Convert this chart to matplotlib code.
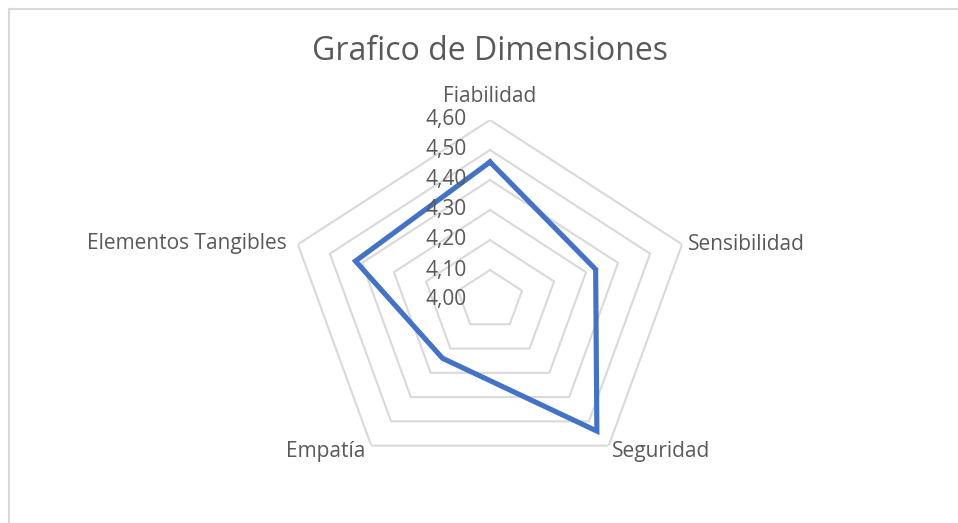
import numpy as np
import matplotlib
matplotlib.use("Agg")
import matplotlib.pyplot as plt
from matplotlib.lines import Line2D

categories = ["Fiabilidad", "Sensibilidad", "Seguridad", "Empatía", "Elementos Tangibles"]
values = [4.46, 4.33, 4.54, 4.24, 4.42]
ticks = [4.00, 4.10, 4.20, 4.30, 4.40, 4.50, 4.60]
tick_labels = ["4,00", "4,10", "4,20", "4,30", "4,40", "4,50", "4,60"]
title = "Grafico de Dimensiones"

plt.rcParams['font.family'] = ['Open Sans', 'DejaVu Sans']
W, H = 958, 523
fig = plt.figure(figsize=(W / 100, H / 100), dpi=100)

# chart border (top and left)
fig.add_artist(Line2D([9 / W, 1.0], [1 - 8.5 / H, 1 - 8.5 / H], color="#d9d9d9", lw=1.5, transform=fig.transFigure))
fig.add_artist(Line2D([9 / W, 9 / W], [0, 1 - 8.5 / H], color="#d9d9d9", lw=1.5, transform=fig.transFigure))

cx, cy, Ry, Rx = 490, 300, 180, 202
ax = fig.add_axes([(cx - Rx) / W, (H - cy - Ry) / H, 2 * Rx / W, 2 * Ry / H], projection="polar")
ax.set_aspect("auto")
ax.set_theta_offset(np.pi / 2)
ax.set_theta_direction(-1)
ax.set_ylim(ticks[0], ticks[-1])
ax.axis("off")

n = len(categories)
theta = np.linspace(0, 2 * np.pi, n, endpoint=False)
theta_c = np.append(theta, theta[0])

for t in ticks[1:]:
    ax.plot(theta_c, [t] * (n + 1), color="#d9d9d9", lw=1.5, zorder=1)

vals_c = values + [values[0]]
ax.plot(theta_c, vals_c, color="#4472C4", lw=3.7, zorder=3, solid_joinstyle="miter")

txt_color = "#595959"
for t, lab in zip(ticks, tick_labels):
    ax.annotate(lab, xy=(0, t), xycoords="data", xytext=(-23, 0), textcoords="offset pixels",
                ha="right", va="center", fontsize=15, color=txt_color, zorder=4)

offsets = [(0, 23, "center", "center"), (6, 0, "left", "center"), (3, -6, "left", "center"),
           (-6, -6, "right", "center"), (-11, 1, "right", "center")]
for th, lab, (dx, dy, ha, va) in zip(theta, categories, offsets):
    ax.annotate(lab, xy=(th, ticks[-1]), xycoords="data", xytext=(dx, dy), textcoords="offset pixels",
                ha=ha, va=va, fontsize=15, color=txt_color)

fig.text(490 / W, 1 - 51 / H, title, ha="center", va="center", fontsize=23, color=txt_color)

fig.savefig("out.png", dpi=100)
